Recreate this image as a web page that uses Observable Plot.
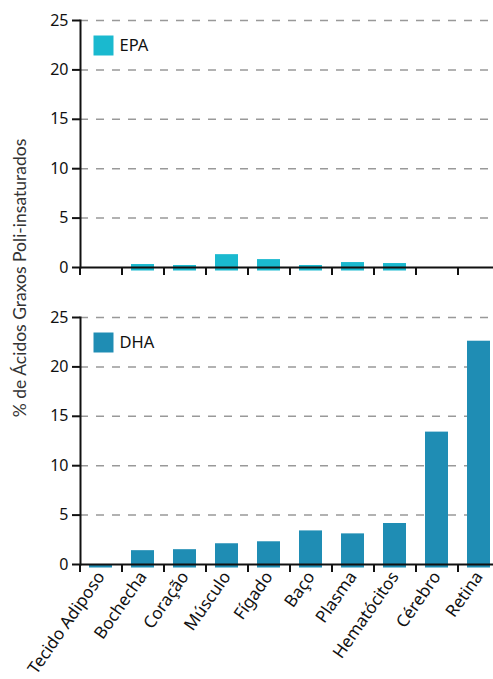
<!DOCTYPE html>
<html>
<head>
<meta charset="utf-8">
<script src="https://cdn.jsdelivr.net/npm/d3@7"></script>
<script src="https://cdn.jsdelivr.net/npm/@observablehq/plot@0.6"></script>
<style>
  html, body { margin: 0; padding: 0; background: #fff; overflow: hidden; }
  #chart { width: 493px; height: 679px; }
</style>
</head>
<body>
<div id="chart"></div>
<script>
const categories = ["Tecido Adiposo", "Bochecha", "Coração", "Músculo", "Fígado", "Baço", "Plasma", "Hematócitos", "Cérebro", "Retina"];
const epaValues = [null, 0.3, 0.2, 1.3, 0.8, 0.2, 0.5, 0.4, null, null];
const dhaValues = [0.0, 1.4, 1.5, 2.1, 2.3, 3.4, 3.1, 4.15, 13.4, 22.6];
const panels = ["EPA", "DHA"];
const panelColors = ["#1ab9cf", "#1f8db4"];
const yTicks = [0, 5, 10, 15, 20, 25];
const yLabel = "% de Ácidos Graxos Poli-insaturados";

const rows = [];
categories.forEach((c, i) => {
  if (epaValues[i] != null) rows.push({panel: "EPA", tissue: c, value: epaValues[i]});
  if (dhaValues[i] != null) rows.push({panel: "DHA", tissue: c, value: dhaValues[i]});
});
const legendRows = panels.map(p => ({panel: p}));

const plot = Plot.plot({
  width: 493,
  height: 679,
  marginLeft: 80,
  marginRight: 0,
  marginTop: 20,
  marginBottom: 115,
  style: {fontFamily: "'Noto Sans', sans-serif", fontSize: "15px", color: "#111", background: "#fff"},
  x: {domain: categories, range: [80, 500], paddingInner: 0.45, paddingOuter: 0.225, axis: null},
  y: {domain: [0, 25], axis: null},
  fy: {domain: panels, paddingInner: 0.1684, paddingOuter: 0, axis: null},
  color: {domain: panels, range: panelColors},
  marks: [
    Plot.gridY(yTicks.filter(t => t > 0), {stroke: "#999", strokeOpacity: 1, strokeWidth: 1.5, strokeDasharray: "8,8"}),
    Plot.barY(rows, {x: "tissue", y: "value", fy: "panel", fill: "panel", insetBottom: -3.5}),
    Plot.ruleY([0], {stroke: "#111", strokeWidth: 2}),
    Plot.frame({anchor: "left", stroke: "#111", strokeWidth: 2}),
    Plot.axisX({ticks: categories, tickSize: 8, dx: -21, strokeWidth: 2, stroke: "#111", fill: "none", label: null, facetAnchor: null}),
    Plot.axisX({ticks: categories, tickSize: 0, tickPadding: 9, tickRotate: -55, fontSize: 17, fill: "#111", label: null}),
    Plot.axisY({ticks: yTicks, tickSize: 8, tickPadding: 4, strokeWidth: 2, stroke: "#111", fill: "#111", fontSize: 16, label: null, facetAnchor: null}),
    Plot.dot(legendRows, {fy: "panel", fill: "panel", symbol: "square", r: 11.28, frameAnchor: "top-left", dx: 23, dy: 25}),
    Plot.text(legendRows, {fy: "panel", text: "panel", frameAnchor: "top-left", dx: 39, dy: 25, textAnchor: "start", lineAnchor: "middle", fontSize: 16.5, fill: "#111"})
  ]
});

d3.select(plot).append("text")
  .attr("transform", "translate(22,278) rotate(-90)")
  .attr("text-anchor", "middle")
  .attr("dominant-baseline", "middle")
  .attr("font-family", "Lato, 'Noto Sans', sans-serif")
  .attr("font-size", 17.5)
  .attr("fill", "#333")
  .text(yLabel);

document.getElementById("chart").appendChild(plot);
</script>
</body>
</html>
